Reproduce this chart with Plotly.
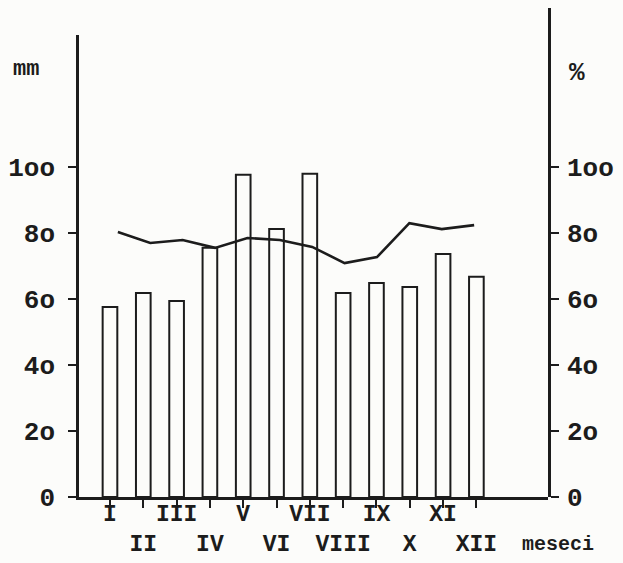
import plotly.graph_objects as go

months = ["I", "II", "III", "IV", "V", "VI", "VII", "VIII", "IX", "X", "XI", "XII"]
rain_mm = [57.6, 61.8, 59.4, 75.5, 97.6, 81.2, 97.9, 61.8, 64.8, 63.6, 73.6, 66.7]
humidity_pct = [80.3, 77.0, 77.9, 75.5, 78.5, 77.9, 75.8, 70.9, 72.7, 83.0, 81.2, 82.4]
y_tickvals = [0, 20, 40, 60, 80, 100]
y_ticktext = ["0", "2o", "4o", "6o", "8o", "1oo"]
x_ticktext = [m if i % 2 == 0 else "<br>" + m for i, m in enumerate(months)]

INK = "#1c1c1c"
FONT = "Liberation Mono"

fig = go.Figure()
fig.add_trace(go.Bar(
    x=months, y=rain_mm, xaxis="x", yaxis="y",
    width=0.44, marker=dict(color="rgba(255,255,255,0)", line=dict(color=INK, width=2)),
    showlegend=False,
))
fig.add_trace(go.Scatter(
    x=months, y=humidity_pct, xaxis="x2", yaxis="y2", mode="lines",
    line=dict(color=INK, width=2.6), showlegend=False,
))

tickfont = dict(family=FONT, size=26, color=INK, weight=700)
common_y = dict(tickvals=y_tickvals, showgrid=False, zeroline=False,
                tickcolor=INK, tickwidth=2, ticklen=8, automargin=False)

fig.update_layout(
    width=623, height=563,
    margin=dict(l=79, r=75, t=8, b=66),
    paper_bgcolor="#fcfcfa", plot_bgcolor="rgba(0,0,0,0)",
    xaxis=dict(
        type="category", categoryarray=months, range=[-0.93, 13.15],
        tickvals=months, ticktext=x_ticktext, tickangle=0, automargin=False,
        ticks="outside", ticklen=8, tickwidth=2, tickcolor=INK, ticklabelstandoff=-14,
        showline=True, linecolor=INK, linewidth=2.5, showgrid=False, zeroline=False,
        tickfont=dict(family=FONT, size=23, color=INK, weight=700),
        anchor="y",
    ),
    xaxis2=dict(
        type="category", categoryarray=months, range=[-1.2, 13.28],
        overlaying="x", anchor="y2", visible=False, automargin=False,
    ),
    yaxis=dict(
        domain=[0, 0.945], range=[0, 140], ticks="outside", ticktext=y_ticktext,
        showline=True, linecolor=INK, linewidth=2.5, tickfont=tickfont,
        ticklabelstandoff=8, anchor="x", **common_y,
    ),
    yaxis3=dict(
        overlaying="y", range=[0, 140], ticks="inside", showticklabels=False,
        showline=False, anchor="x", **common_y,
    ),
    yaxis2=dict(
        domain=[0, 1], range=[0, 148.2], side="right", ticks="outside", ticktext=y_ticktext,
        showline=True, linecolor=INK, linewidth=2.5, tickfont=tickfont,
        ticklabelstandoff=3, anchor="x", **common_y,
    ),
    yaxis4=dict(
        overlaying="y2", side="right", range=[0, 148.2], ticks="inside", showticklabels=False,
        showline=False, anchor="x", **common_y,
    ),
    annotations=[
        dict(text="mm", xref="paper", yref="paper", x=-0.145, y=0.875, xanchor="left",
             yanchor="middle", showarrow=False,
             font=dict(family=FONT, size=22, color=INK, weight=700)),
        dict(text="%", xref="paper", yref="paper", x=1.04, y=0.868, xanchor="left",
             yanchor="middle", showarrow=False,
             font=dict(family=FONT, size=26, color=INK, weight=700)),
        dict(text="meseci", xref="paper", yref="paper", x=0.94, y=-0.098, xanchor="left",
             yanchor="middle", showarrow=False,
             font=dict(family=FONT, size=20, color=INK, weight=700)),
    ],
)

fig.write_html("out.html", config={"displayModeBar": False},
               post_script="document.body.style.margin='0px';")
